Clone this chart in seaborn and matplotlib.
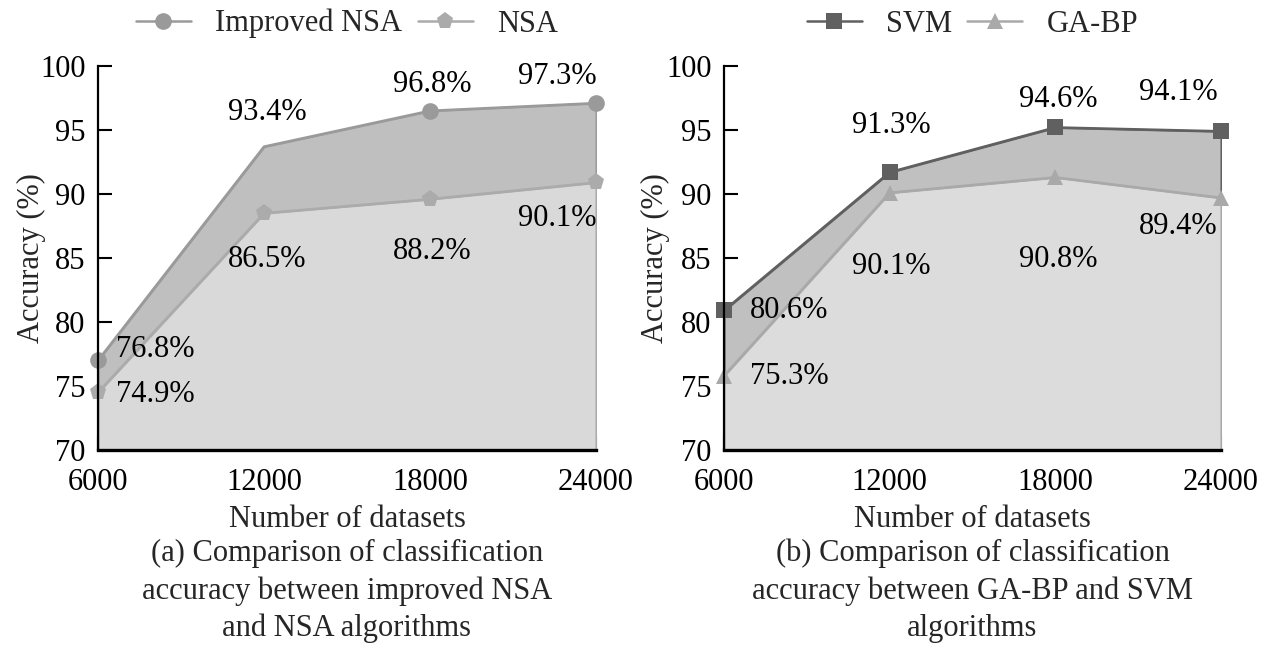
import matplotlib
matplotlib.use("Agg")
import matplotlib.pyplot as plt
from matplotlib.lines import Line2D
import seaborn as sns
import pandas as pd

# data
datasets = [6000, 12000, 18000, 24000]
improved_nsa = [77.0, 93.7, 96.5, 97.1]
nsa = [74.5, 88.5, 89.6, 90.9]
svm = [80.9, 91.7, 95.2, 94.9]
ga_bp = [75.8, 90.1, 91.3, 89.7]

improved_nsa_labels = ["76.8%", "93.4%", "96.8%", "97.3%"]
nsa_labels = ["74.9%", "86.5%", "88.2%", "90.1%"]
svm_labels = ["80.6%", "91.3%", "94.6%", "94.1%"]
ga_bp_labels = ["75.3%", "90.1%", "90.8%", "89.4%"]

captions = ["(a) Comparison of classification\naccuracy between improved NSA\nand NSA algorithms",
            "(b) Comparison of classification\naccuracy between GA-BP and SVM\nalgorithms"]

sns.set_theme(style="ticks")
plt.rcParams['font.family'] = ['Liberation Serif', 'DejaVu Serif']
FS = 22

fig = plt.figure(figsize=(12.73, 6.55), dpi=100)
ax1 = fig.add_axes([98/1273, 1 - 450/655, 498/1273, 384/655])
ax2 = fig.add_axes([724/1273, 1 - 450/655, 497/1273, 384/655])


def panel(ax, top, bot, top_lbl, bot_lbl, names, cols, fills, mks, msz,
          top_mark, top_off, bot_off, cap, ylab_x):
    df = pd.DataFrame({"x": datasets, "top": top, "bot": bot})
    ax.fill_between(df["x"], 70, df["top"], color=fills[0], edgecolor=cols[0], lw=1.5)
    ax.fill_between(df["x"], 70, df["bot"], color=fills[1], edgecolor=cols[1], lw=1.5)
    sns.lineplot(data=df, x="x", y="top", ax=ax, color=cols[0], lw=1.8,
                 marker=mks[0], markersize=msz[0], markevery=top_mark,
                 markeredgewidth=0, clip_on=False)
    sns.lineplot(data=df, x="x", y="bot", ax=ax, color=cols[1], lw=1.8,
                 marker=mks[1], markersize=msz[1],
                 markeredgewidth=0, clip_on=False)
    for i, x in enumerate(datasets):
        ax.annotate(top_lbl[i], (x, top[i]), xytext=top_off[i], textcoords="offset pixels",
                    ha="center", va="center", fontsize=FS, color="black")
        ax.annotate(bot_lbl[i], (x, bot[i]), xytext=bot_off[i], textcoords="offset pixels",
                    ha="center", va="center", fontsize=FS, color="black")
    ax.set_xlim(6000, 24000)
    ax.set_ylim(70, 100)
    ax.set_xticks(datasets)
    ax.set_yticks(range(70, 101, 5))
    ax.tick_params(axis="both", direction="in", length=10, width=1.5, colors="black",
                   labelsize=FS)
    ax.tick_params(axis="x", pad=13)
    ax.tick_params(axis="y", pad=9)
    for s in ["top", "right"]:
        ax.spines[s].set_visible(False)
    ax.spines["left"].set_linewidth(1.6)
    ax.spines["bottom"].set_linewidth(2.4)
    ax.spines["left"].set_color("black")
    ax.spines["bottom"].set_color("black")
    ax.set_facecolor("white")
    ax.set_xlabel("Number of datasets", fontsize=FS, labelpad=6)
    ax.set_ylabel("Accuracy (%)", fontsize=FS)
    ax.yaxis.set_label_coords(ylab_x, 0.5)
    handles = [Line2D([], [], color=cols[0], lw=1.8, marker=mks[0], markersize=msz[0],
                      markeredgewidth=0),
               Line2D([], [], color=cols[1], lw=1.8, marker=mks[1], markersize=msz[1],
                      markeredgewidth=0)]
    ax.legend(handles, names, loc="lower center", bbox_to_anchor=(0.5, 1.0), ncol=2,
              frameon=False, fontsize=FS, handlelength=1.8, columnspacing=0.5,
              handletextpad=0.8)
    pos = ax.get_position()
    fig.text(pos.x0 + pos.width / 2, 1 - 539/655, cap, ha="center", va="top",
             fontsize=FS, linespacing=1.36)


panel(ax1, improved_nsa, nsa, improved_nsa_labels, nsa_labels,
      ["Improved NSA", "NSA"], ["#9a9a9a", "#ababab"], ["#bfbfbf", "#d9d9d9"],
      ["o", "p"], [12, 12.5], [0, 2, 3],
      [(57, 11), (3, 34), (2, 26), (-39, 27)],
      [(57, -2), (3, -46), (2, -52), (-39, -36)], captions[0], -0.105)

panel(ax2, svm, ga_bp, svm_labels, ga_bp_labels,
      ["SVM", "GA-BP"], ["#606060", "#a9a9a9"], ["#c0c0c0", "#dcdcdc"],
      ["s", "^"], [11, 12], None,
      [(65, 0), (2, 47), (3, 28), (-43, 39)],
      [(65, -1), (2, -74), (3, -82), (-43, -29)], captions[1], -0.109)

fig.savefig("out.png", dpi=100, facecolor="white")
